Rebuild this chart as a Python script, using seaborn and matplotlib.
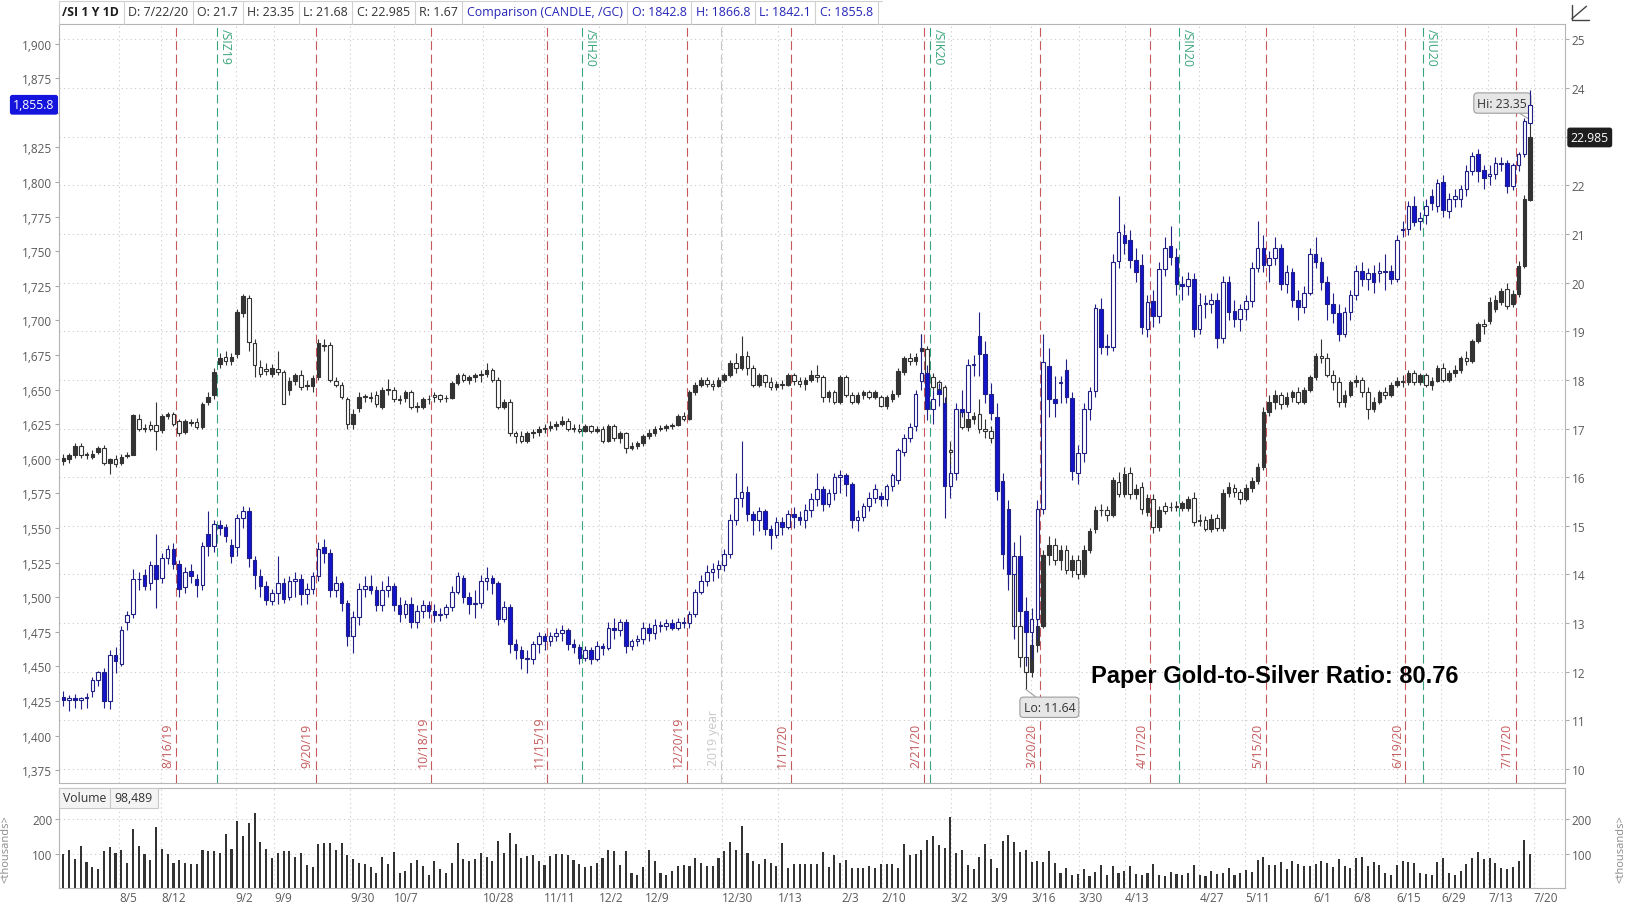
import numpy as np
import pandas as pd
import matplotlib
matplotlib.use("Agg")
import matplotlib.pyplot as plt
import matplotlib.transforms as mtransforms
from matplotlib.patches import Rectangle
from matplotlib.lines import Line2D
from matplotlib.ticker import FuncFormatter
import seaborn as sns

sns.set_style("white")
plt.rcParams["font.family"] = ["Open Sans", "DejaVu Sans"]

# one bar per trading day, 7/22/19 .. 7/22/20
holidays = pd.to_datetime(["2019-09-02", "2019-11-28", "2019-12-25", "2020-01-01", "2020-01-20",
                           "2020-02-17", "2020-04-10", "2020-05-25", "2020-07-03"])
days = pd.bdate_range("2019-07-22", "2020-07-22")
days = days[~days.isin(holidays)]

# /SI daily candles (right axis)
silver_open = [
    16.33, 16.37, 16.45, 16.65, 16.46, 16.42, 16.52, 16.60, 16.30, 16.38,
    16.30, 16.44, 16.46, 17.20, 17.00, 17.08, 17.08, 16.98, 17.25, 17.30,
    17.15, 16.92, 17.12, 17.14, 17.03, 17.55, 17.68, 18.32, 18.47, 18.38,
    18.53, 19.38, 19.68, 18.75, 18.26, 18.22, 18.13, 18.22, 18.17, 17.80,
    17.97, 18.10, 17.88, 17.87, 18.06, 18.70, 18.72, 17.97, 17.90, 17.60,
    17.10, 17.42, 17.65, 17.65, 17.70, 17.45, 17.80, 17.80, 17.60, 17.62,
    17.75, 17.45, 17.45, 17.60, 17.70, 17.68, 17.62, 17.63, 17.93, 18.10,
    18.00, 18.05, 18.10, 18.12, 18.20, 18.00, 17.45, 17.55, 16.90, 16.85,
    16.75, 16.90, 16.92, 17.00, 17.02, 17.05, 17.10, 17.15, 17.00, 17.00,
    16.95, 17.05, 16.95, 17.00, 16.75, 17.05, 16.80, 16.90, 16.60, 16.65,
    16.70, 16.85, 16.90, 17.00, 17.02, 17.05, 17.08, 17.25, 17.20, 17.75,
    17.90, 18.00, 17.92, 17.88, 18.00, 18.10, 18.35, 18.25, 18.50, 18.25,
    17.90, 18.10, 17.95, 17.85, 17.92, 17.90, 18.10, 17.98, 17.92, 18.00,
    18.10, 18.05, 17.65, 17.75, 17.55, 18.05, 17.70, 17.55, 17.70, 17.75,
    17.65, 17.65, 17.47, 17.60, 17.71, 18.17, 18.45, 18.38, 18.60, 18.64,
    18.05, 17.95, 17.85, 16.55, 16.50, 17.35, 17.04, 17.20, 17.30, 17.00,
    16.95, 16.80, 15.80, 14.60, 14.20, 12.95, 12.30, 12.00, 12.55, 12.95,
    14.40, 14.60, 14.30, 14.50, 14.10, 14.30, 14.00, 14.50, 14.94, 15.32,
    15.32, 15.23, 15.90, 15.66, 16.09, 15.66, 15.79, 15.29, 15.56, 14.97,
    15.40, 15.38, 15.40, 15.36, 15.36, 15.58, 15.10, 15.12, 14.94, 15.17,
    14.95, 15.67, 15.78, 15.70, 15.55, 15.78, 15.92, 16.20, 17.35, 17.55,
    17.70, 17.50, 17.65, 17.75, 17.55, 17.80, 18.05, 18.50, 18.45, 18.10,
    17.95, 17.55, 17.70, 17.95, 18.00, 17.75, 17.40, 17.55, 17.75, 17.70,
    17.90, 17.98, 17.95, 18.15, 17.95, 18.10, 17.90, 17.98, 18.25, 18.00,
    18.15, 18.20, 18.45, 18.38, 18.80, 19.15, 19.22, 19.45, 19.60, 19.87,
    19.56, 19.77, 20.35, 21.70]
silver_high = [
    16.47, 16.50, 16.70, 16.70, 16.52, 16.55, 16.65, 16.66, 16.40, 16.45,
    16.47, 16.52, 17.30, 17.30, 17.10, 17.15, 17.55, 17.30, 17.35, 17.35,
    17.20, 17.20, 17.20, 17.22, 17.55, 17.75, 18.25, 18.55, 18.60, 18.55,
    19.45, 19.77, 19.75, 18.85, 18.40, 18.35, 18.32, 18.60, 18.20, 18.05,
    18.15, 18.20, 18.00, 18.10, 18.85, 18.85, 18.78, 18.05, 17.95, 17.65,
    17.40, 17.75, 17.72, 17.75, 17.78, 17.85, 18.02, 17.85, 17.68, 17.80,
    17.80, 17.55, 17.65, 17.70, 17.75, 17.72, 17.70, 17.98, 18.15, 18.15,
    18.10, 18.15, 18.20, 18.35, 18.25, 18.05, 17.60, 17.60, 16.95, 16.95,
    16.95, 17.00, 17.05, 17.10, 17.15, 17.15, 17.25, 17.22, 17.10, 17.10,
    17.10, 17.08, 17.05, 17.05, 17.10, 17.10, 16.95, 16.92, 16.72, 16.75,
    16.88, 17.00, 17.05, 17.08, 17.10, 17.12, 17.30, 17.35, 17.80, 17.95,
    18.05, 18.05, 18.00, 18.05, 18.15, 18.40, 18.55, 18.90, 18.60, 18.30,
    18.15, 18.12, 18.05, 17.98, 18.00, 18.15, 18.15, 18.05, 18.05, 18.20,
    18.30, 18.10, 17.80, 17.80, 18.10, 18.10, 17.75, 17.75, 17.80, 17.80,
    17.80, 17.70, 17.70, 17.80, 18.25, 18.50, 18.55, 18.55, 18.95, 18.70,
    18.15, 18.00, 17.90, 16.75, 17.40, 17.40, 17.30, 17.35, 17.60, 17.20,
    17.05, 16.85, 15.90, 14.90, 14.40, 13.40, 12.80, 12.70, 13.20, 14.50,
    14.80, 14.75, 14.60, 14.60, 14.40, 14.40, 14.60, 14.95, 15.40, 15.45,
    15.40, 16.00, 16.10, 16.20, 16.20, 15.85, 15.90, 15.65, 15.65, 15.40,
    15.48, 15.48, 15.50, 15.50, 15.62, 15.70, 15.25, 15.20, 15.25, 15.25,
    15.75, 15.90, 15.85, 15.75, 15.85, 16.00, 16.30, 17.45, 17.70, 17.80,
    17.75, 17.75, 17.80, 17.85, 17.85, 18.10, 18.55, 18.85, 18.55, 18.20,
    18.05, 17.80, 18.00, 18.10, 18.05, 17.85, 17.65, 17.80, 17.85, 17.95,
    18.05, 18.10, 18.20, 18.20, 18.15, 18.15, 18.05, 18.30, 18.35, 18.20,
    18.30, 18.50, 18.60, 18.85, 19.20, 19.25, 19.70, 19.75, 19.90, 20.00,
    19.85, 20.45, 21.80, 23.35]
silver_low = [
    16.25, 16.30, 16.40, 16.40, 16.38, 16.38, 16.48, 16.25, 16.06, 16.20,
    16.25, 16.40, 16.45, 16.95, 16.92, 16.95, 16.55, 16.90, 17.20, 17.05,
    16.85, 16.88, 17.05, 17.00, 17.00, 17.48, 17.60, 18.25, 18.30, 18.30,
    18.45, 19.30, 18.60, 18.05, 18.05, 18.10, 18.05, 18.10, 17.50, 17.70,
    17.90, 17.80, 17.80, 17.75, 18.00, 18.60, 17.95, 17.85, 17.60, 17.00,
    17.00, 17.35, 17.55, 17.55, 17.45, 17.40, 17.70, 17.55, 17.50, 17.55,
    17.40, 17.35, 17.40, 17.50, 17.55, 17.55, 17.55, 17.60, 17.90, 17.95,
    17.92, 17.95, 17.95, 18.05, 17.95, 17.40, 17.40, 16.85, 16.70, 16.70,
    16.70, 16.80, 16.85, 16.90, 16.95, 16.98, 17.05, 16.95, 16.92, 16.90,
    16.92, 16.90, 16.90, 16.70, 16.72, 16.75, 16.70, 16.50, 16.55, 16.58,
    16.65, 16.78, 16.85, 16.95, 16.95, 17.00, 17.05, 17.15, 17.18, 17.70,
    17.85, 17.85, 17.80, 17.85, 17.95, 18.05, 18.15, 18.20, 18.10, 17.85,
    17.85, 17.85, 17.80, 17.80, 17.82, 17.88, 17.90, 17.85, 17.80, 17.95,
    17.95, 17.55, 17.55, 17.50, 17.50, 17.65, 17.50, 17.50, 17.60, 17.60,
    17.60, 17.45, 17.40, 17.55, 17.65, 18.10, 18.30, 18.30, 18.55, 17.95,
    17.80, 17.75, 16.45, 16.25, 16.45, 17.00, 16.95, 17.10, 16.90, 16.80,
    16.70, 15.70, 14.50, 13.80, 12.70, 12.10, 11.64, 11.90, 12.40, 12.90,
    14.20, 14.20, 14.10, 14.00, 13.95, 13.90, 13.95, 14.45, 14.85, 15.20,
    15.10, 15.18, 15.60, 15.60, 15.55, 15.55, 15.25, 15.20, 14.85, 14.90,
    15.25, 15.30, 15.30, 15.30, 15.30, 15.00, 15.00, 14.90, 14.88, 14.90,
    14.90, 15.60, 15.60, 15.45, 15.50, 15.70, 15.85, 16.15, 17.25, 17.40,
    17.40, 17.45, 17.55, 17.50, 17.50, 17.75, 18.00, 18.35, 18.05, 17.80,
    17.45, 17.45, 17.65, 17.85, 17.65, 17.20, 17.35, 17.50, 17.60, 17.65,
    17.85, 17.85, 17.90, 17.90, 17.90, 17.85, 17.80, 17.95, 17.95, 17.95,
    18.05, 18.15, 18.30, 18.35, 18.75, 18.95, 19.15, 19.40, 19.55, 19.45,
    19.50, 19.70, 20.30, 21.68]
silver_close = [
    16.40, 16.45, 16.65, 16.45, 16.46, 16.48, 16.60, 16.30, 16.38, 16.28,
    16.42, 16.46, 17.27, 17.00, 17.00, 17.00, 16.95, 17.25, 17.30, 17.10,
    16.90, 17.15, 17.12, 17.03, 17.50, 17.65, 18.17, 18.45, 18.38, 18.48,
    19.39, 19.73, 18.77, 18.30, 18.13, 18.18, 18.25, 18.17, 17.51, 17.98,
    18.10, 17.85, 17.90, 18.04, 18.75, 18.70, 18.00, 17.90, 17.65, 17.10,
    17.30, 17.65, 17.65, 17.62, 17.50, 17.80, 17.80, 17.60, 17.58, 17.75,
    17.45, 17.45, 17.60, 17.60, 17.65, 17.60, 17.63, 17.93, 18.10, 18.00,
    18.05, 18.10, 18.12, 18.20, 18.00, 17.45, 17.55, 16.90, 16.85, 16.75,
    16.90, 16.92, 17.00, 17.02, 17.05, 17.10, 17.15, 17.00, 17.00, 16.95,
    17.05, 16.95, 17.00, 16.75, 17.05, 16.80, 16.90, 16.60, 16.65, 16.70,
    16.85, 16.90, 17.00, 17.02, 17.05, 17.08, 17.25, 17.20, 17.75, 17.90,
    18.00, 17.92, 17.88, 18.00, 18.10, 18.35, 18.25, 18.50, 18.25, 17.90,
    18.10, 17.95, 17.85, 17.92, 17.90, 18.10, 17.98, 17.92, 18.00, 18.10,
    18.05, 17.65, 17.75, 17.55, 18.05, 17.70, 17.55, 17.70, 17.75, 17.65,
    17.75, 17.47, 17.65, 17.71, 18.19, 18.45, 18.38, 18.48, 18.66, 18.02,
    17.85, 17.82, 16.55, 16.51, 17.35, 17.04, 17.20, 17.25, 17.00, 16.95,
    16.80, 15.80, 14.60, 14.20, 12.95, 12.30, 12.00, 12.55, 12.95, 14.40,
    14.60, 14.30, 14.50, 14.10, 14.30, 14.00, 14.50, 14.90, 15.32, 15.32,
    15.22, 15.94, 15.66, 16.07, 15.65, 15.76, 15.35, 15.57, 14.97, 15.33,
    15.30, 15.38, 15.38, 15.47, 15.56, 15.08, 15.10, 14.94, 15.15, 14.95,
    15.67, 15.80, 15.70, 15.55, 15.78, 15.92, 16.20, 17.35, 17.55, 17.70,
    17.50, 17.65, 17.75, 17.55, 17.80, 18.05, 18.50, 18.45, 18.10, 17.95,
    17.55, 17.70, 17.95, 18.00, 17.75, 17.40, 17.55, 17.75, 17.70, 17.90,
    17.98, 17.95, 18.15, 17.95, 18.10, 17.90, 17.98, 18.25, 18.00, 18.15,
    18.20, 18.45, 18.38, 18.80, 19.15, 19.10, 19.60, 19.64, 19.83, 19.53,
    19.77, 20.35, 21.73, 22.985]

# /GC comparison candles (left axis)
gold_open = [
    1428, 1426, 1427, 1426, 1427, 1432, 1440, 1446, 1425, 1458,
    1452, 1482, 1488, 1513, 1516, 1510, 1523, 1514, 1528, 1535,
    1524, 1507, 1519, 1513, 1509, 1546, 1537, 1552, 1551, 1538,
    1536, 1557, 1562, 1527, 1515, 1508, 1497, 1503, 1510, 1500,
    1512, 1513, 1502, 1506, 1515, 1536, 1532, 1505, 1510, 1496,
    1472, 1486, 1506, 1508, 1505, 1494, 1505, 1508, 1494, 1488,
    1495, 1482, 1490, 1494, 1490, 1487, 1488, 1493, 1504, 1514,
    1500, 1495, 1496, 1512, 1514, 1510, 1484, 1493, 1466, 1462,
    1456, 1455, 1466, 1472, 1468, 1472, 1474, 1476, 1466, 1464,
    1456, 1462, 1455, 1465, 1463, 1478, 1476, 1482, 1465, 1468,
    1470, 1478, 1474, 1480, 1479, 1481, 1478, 1482, 1481, 1488,
    1504, 1512, 1518, 1520, 1523, 1531, 1556, 1572, 1576, 1560,
    1556, 1562, 1549, 1545, 1554, 1551, 1560, 1558, 1556, 1563,
    1571, 1578, 1567, 1575, 1587, 1588, 1582, 1556, 1558, 1566,
    1572, 1573, 1571, 1580, 1585, 1605, 1615, 1624, 1656, 1662,
    1636, 1650, 1640, 1580, 1590, 1636, 1634, 1668, 1689, 1676,
    1647, 1630, 1584, 1564, 1517, 1530, 1490, 1475, 1484, 1564,
    1667, 1643, 1655, 1664, 1644, 1590, 1604, 1636, 1649, 1708,
    1681, 1681, 1743, 1762, 1758, 1744, 1740, 1694, 1714, 1703,
    1737, 1754, 1746, 1726, 1725, 1730, 1694, 1712, 1712, 1715,
    1687, 1728, 1707, 1701, 1708, 1714, 1738, 1752, 1740, 1745,
    1752, 1726, 1735, 1715, 1710, 1720, 1748, 1742, 1728, 1712,
    1705, 1690, 1706, 1718, 1736, 1730, 1734, 1734, 1736, 1736,
    1730, 1766, 1766, 1783, 1772, 1776, 1790, 1783, 1800, 1779,
    1788, 1788, 1795, 1808, 1820, 1809, 1804, 1806, 1814, 1814,
    1797, 1812, 1820, 1842.8]
gold_high = [
    1432, 1429, 1430, 1428, 1431, 1442, 1447, 1449, 1462, 1464,
    1479, 1490, 1520, 1518, 1520, 1526, 1546, 1532, 1538, 1539,
    1527, 1522, 1524, 1517, 1540, 1562, 1556, 1556, 1553, 1542,
    1560, 1566, 1565, 1530, 1520, 1512, 1506, 1530, 1514, 1515,
    1518, 1517, 1510, 1518, 1540, 1542, 1535, 1515, 1512, 1498,
    1490, 1510, 1515, 1516, 1508, 1512, 1515, 1510, 1500, 1498,
    1500, 1494, 1498, 1497, 1495, 1492, 1495, 1508, 1518, 1516,
    1504, 1505, 1516, 1522, 1516, 1512, 1497, 1495, 1470, 1465,
    1462, 1468, 1475, 1474, 1475, 1478, 1480, 1478, 1470, 1466,
    1465, 1464, 1468, 1467, 1482, 1485, 1484, 1484, 1470, 1473,
    1482, 1481, 1484, 1483, 1484, 1484, 1485, 1486, 1490, 1506,
    1516, 1523, 1525, 1527, 1535, 1560, 1590, 1613, 1580, 1562,
    1565, 1564, 1552, 1558, 1558, 1563, 1565, 1562, 1567, 1575,
    1590, 1580, 1578, 1590, 1592, 1590, 1583, 1563, 1568, 1576,
    1582, 1576, 1582, 1590, 1608, 1618, 1626, 1650, 1690, 1668,
    1650, 1655, 1645, 1596, 1640, 1650, 1672, 1675, 1706, 1685,
    1655, 1640, 1590, 1570, 1540, 1545, 1500, 1492, 1570, 1690,
    1680, 1660, 1660, 1672, 1648, 1610, 1640, 1652, 1712, 1716,
    1690, 1748, 1790, 1770, 1765, 1752, 1748, 1718, 1722, 1742,
    1760, 1768, 1752, 1732, 1735, 1734, 1720, 1718, 1720, 1720,
    1732, 1732, 1715, 1712, 1718, 1742, 1772, 1762, 1750, 1760,
    1755, 1740, 1738, 1722, 1725, 1752, 1760, 1746, 1732, 1720,
    1712, 1710, 1722, 1740, 1742, 1738, 1740, 1742, 1748, 1740,
    1762, 1772, 1786, 1790, 1778, 1788, 1795, 1802, 1805, 1792,
    1795, 1798, 1812, 1822, 1824, 1812, 1812, 1818, 1818, 1816,
    1814, 1822, 1846, 1866.8]
gold_low = [
    1421, 1418, 1420, 1419, 1420, 1428, 1436, 1420, 1419, 1445,
    1450, 1476, 1485, 1505, 1505, 1505, 1492, 1510, 1524, 1520,
    1500, 1503, 1510, 1500, 1505, 1530, 1533, 1545, 1540, 1525,
    1530, 1550, 1522, 1506, 1500, 1494, 1494, 1495, 1496, 1498,
    1500, 1494, 1495, 1502, 1512, 1525, 1500, 1500, 1490, 1465,
    1460, 1480, 1500, 1502, 1490, 1490, 1500, 1490, 1482, 1485,
    1478, 1478, 1485, 1485, 1482, 1483, 1485, 1490, 1502, 1496,
    1488, 1485, 1492, 1505, 1502, 1480, 1482, 1460, 1455, 1448,
    1445, 1452, 1460, 1462, 1465, 1468, 1468, 1462, 1460, 1452,
    1454, 1452, 1454, 1458, 1462, 1470, 1472, 1460, 1462, 1465,
    1466, 1468, 1470, 1475, 1476, 1476, 1476, 1478, 1478, 1486,
    1502, 1508, 1512, 1514, 1519, 1528, 1552, 1565, 1555, 1545,
    1548, 1545, 1535, 1543, 1545, 1549, 1550, 1552, 1550, 1558,
    1566, 1562, 1565, 1570, 1575, 1573, 1550, 1548, 1555, 1562,
    1568, 1566, 1566, 1577, 1582, 1602, 1612, 1620, 1650, 1628,
    1625, 1638, 1557, 1572, 1585, 1630, 1630, 1660, 1660, 1640,
    1628, 1570, 1520, 1505, 1470, 1480, 1450, 1455, 1470, 1560,
    1630, 1630, 1640, 1640, 1585, 1582, 1598, 1628, 1645, 1676,
    1675, 1678, 1738, 1748, 1738, 1728, 1690, 1688, 1695, 1698,
    1732, 1740, 1718, 1715, 1718, 1688, 1690, 1702, 1705, 1680,
    1684, 1700, 1695, 1692, 1700, 1710, 1735, 1735, 1728, 1740,
    1722, 1720, 1710, 1700, 1705, 1718, 1738, 1722, 1700, 1698,
    1685, 1688, 1700, 1715, 1725, 1722, 1720, 1728, 1722, 1726,
    1728, 1760, 1762, 1768, 1765, 1770, 1780, 1778, 1775, 1774,
    1782, 1782, 1790, 1805, 1800, 1795, 1798, 1802, 1808, 1792,
    1794, 1808, 1818, 1842.1]
gold_close = [
    1426, 1427, 1426, 1427, 1428, 1440, 1446, 1425, 1458, 1454,
    1476, 1487, 1513, 1513, 1508, 1523, 1513, 1528, 1535, 1524,
    1506, 1518, 1515, 1509, 1537, 1537, 1553, 1550, 1544, 1530,
    1557, 1562, 1528, 1516, 1508, 1498, 1503, 1510, 1499, 1512,
    1513, 1502, 1506, 1515, 1535, 1532, 1505, 1510, 1496, 1472,
    1486, 1506, 1508, 1505, 1494, 1505, 1508, 1494, 1488, 1495,
    1482, 1490, 1494, 1490, 1487, 1488, 1493, 1504, 1515, 1500,
    1495, 1496, 1512, 1514, 1510, 1484, 1493, 1466, 1462, 1456,
    1455, 1466, 1472, 1468, 1472, 1474, 1476, 1466, 1464, 1456,
    1462, 1455, 1465, 1463, 1478, 1476, 1482, 1465, 1468, 1470,
    1478, 1474, 1480, 1479, 1481, 1478, 1482, 1481, 1488, 1504,
    1512, 1518, 1520, 1523, 1531, 1556, 1572, 1576, 1560, 1556,
    1562, 1549, 1545, 1554, 1551, 1560, 1558, 1556, 1563, 1571,
    1578, 1567, 1575, 1587, 1588, 1582, 1556, 1558, 1566, 1572,
    1578, 1571, 1580, 1588, 1606, 1615, 1623, 1647, 1662, 1636,
    1643, 1647, 1580, 1590, 1636, 1634, 1668, 1668, 1676, 1647,
    1633, 1577, 1531, 1517, 1530, 1490, 1475, 1484, 1564, 1670,
    1643, 1640, 1655, 1645, 1591, 1604, 1636, 1649, 1709, 1681,
    1681, 1742, 1764, 1756, 1744, 1735, 1695, 1713, 1703, 1737,
    1752, 1746, 1726, 1725, 1730, 1694, 1711, 1712, 1715, 1687,
    1728, 1706, 1701, 1708, 1714, 1738, 1752, 1740, 1745, 1752,
    1726, 1735, 1715, 1710, 1720, 1748, 1742, 1728, 1712, 1705,
    1690, 1706, 1718, 1736, 1730, 1734, 1728, 1736, 1735, 1730,
    1758, 1765, 1783, 1771, 1774, 1783, 1785, 1799, 1780, 1788,
    1790, 1795, 1808, 1819, 1808, 1803, 1806, 1814, 1813, 1797,
    1812, 1820, 1844, 1855.8]

# /SI volume, thousands
volume = [
    100, 112, 84, 121, 77, 63, 57, 107, 120, 101,
    112, 72, 170, 121, 99, 81, 178, 114, 98, 72,
    81, 73, 71, 71, 112, 109, 108, 103, 158, 114,
    195, 152, 189, 217, 135, 114, 87, 101, 107, 107,
    90, 101, 67, 61, 127, 132, 132, 110, 132, 96,
    84, 73, 71, 61, 45, 90, 70, 104, 45, 50,
    73, 81, 65, 40, 78, 57, 45, 73, 132, 85,
    79, 86, 101, 91, 78, 138, 101, 159, 129, 87,
    93, 95, 78, 67, 93, 98, 98, 95, 81, 70,
    63, 65, 73, 89, 110, 108, 67, 108, 45, 40,
    62, 112, 79, 45, 40, 50, 64, 67, 64, 89,
    72, 64, 64, 89, 108, 134, 110, 179, 101, 79,
    70, 84, 74, 66, 131, 60, 71, 70, 70, 70,
    70, 106, 63, 95, 72, 81, 60, 60, 60, 66,
    58, 70, 70, 70, 58, 127, 95, 98, 112, 140,
    150, 124, 118, 207, 101, 112, 67, 55, 92, 127,
    84, 59, 138, 155, 135, 104, 112, 76, 78, 77,
    107, 74, 45, 60, 38, 42, 55, 35, 48, 67,
    40, 64, 45, 50, 64, 42, 38, 45, 70, 40,
    35, 48, 42, 38, 45, 67, 40, 36, 50, 42,
    45, 60, 38, 44, 52, 48, 81, 92, 67, 67,
    76, 55, 79, 70, 64, 64, 70, 78, 72, 61,
    84, 65, 58, 87, 90, 64, 75, 67, 45, 40,
    67, 78, 77, 74, 45, 42, 40, 75, 87, 45,
    40, 50, 70, 87, 104, 84, 87, 72, 60, 55,
    61, 78, 141, 98]

expirations = ["2019-08-16", "2019-09-20", "2019-10-18", "2019-11-15", "2019-12-20", "2020-01-17",
               "2020-02-21", "2020-03-20", "2020-04-17", "2020-05-15", "2020-06-19", "2020-07-17"]
rolls = ["2019-08-27", "2019-11-25", "2020-02-24", "2020-04-24", "2020-06-24"]
roll_labels = ["/SIZ19", "/SIH20", "/SIK20", "/SIN20", "/SIU20"]
week_labels = ["8/5", "8/12", "9/2", "9/9", "9/30", "10/7", "10/28", "11/11", "12/2", "12/9",
               "12/30", "1/13", "2/3", "2/10", "3/2", "3/9", "3/16", "3/30", "4/13", "4/27",
               "5/11", "6/1", "6/8", "6/15", "6/29", "7/13", "7/20"]
# where the reference puts the centre of each date label (layout units, 1568 wide)
week_label_x = [123, 166, 235, 272, 348, 390, 479, 537, 588, 632, 709, 760, 819, 860, 924,
                962, 1004, 1050, 1094, 1166, 1210, 1273, 1312, 1356, 1399, 1444, 1488]

n = len(days)
for arr in (silver_open, silver_high, silver_low, silver_close,
            gold_open, gold_high, gold_low, gold_close, volume):
    assert len(arr) == n, len(arr)


def bar_of(date):
    return int(np.searchsorted(days.values, np.datetime64(pd.Timestamp(date))))


def draw_candles(axis, o, h, l, c, up_fc, down_fc, ec, min_body):
    o, h, l, c = (np.asarray(v, dtype=float) for v in (o, h, l, c))
    x = np.arange(len(o))
    axis.vlines(x, l, h, color=ec, lw=0.8, zorder=3)
    up = c >= o
    lo = np.minimum(o, c)
    body = np.maximum(np.abs(c - o), min_body)
    axis.bar(x[up], body[up], bottom=lo[up], width=0.62, color=up_fc,
             edgecolor=ec, linewidth=0.8, zorder=4)
    axis.bar(x[~up], body[~up], bottom=lo[~up], width=0.62, color=down_fc,
             edgecolor=ec, linewidth=0.8, zorder=4)


# layout measured on the reference (1568 x 871 units)
W, H = 1568.0, 871.0
fx = lambda x: x / W
fy = lambda y: 1 - y / H
BAR0, BARW = 61.0, 5.584   # x of first bar, spacing per bar (layout units)

fig = plt.figure(figsize=(16.28, 9.04), dpi=100)
fig.patch.set_facecolor("white")
ax = fig.add_axes([fx(57), fy(755), fx(1507) - fx(57), fy(24) - fy(755)])
axg = ax.twinx()
axv = fig.add_axes([fx(57), fy(857), fx(1507) - fx(57), fy(760) - fy(857)])

xlim = ((57 - BAR0) / BARW, (1507 - BAR0) / BARW)
# date grid sits at the left edge of each label
tick_pos = [(cx - 2.7 * len(lab) - BAR0) / BARW for cx, lab in zip(week_label_x, week_labels)]

grid_kw = dict(color="#c9c9c9", lw=0.8, ls=(0, (1, 3)))
label_col = "#5a5a5a"
spine_col = "#b5b5b5"

# silver on the base axes (right scale), grid lives here
draw_candles(ax, silver_open, silver_high, silver_low, silver_close,
             "#333333", "white", "#333333", 0.012)
ax.set_xlim(*xlim)
ax.set_ylim(9.72, 25.32)
ax.set_yticks(range(10, 26))
# 23 sits under the last-price box in the reference
ax.yaxis.set_major_formatter(FuncFormatter(lambda v, p: "" if round(v) == 23 else f"{v:.0f}"))
ax.set_xticks(tick_pos)
ax.set_axisbelow(True)
ax.grid(True, **grid_kw)
ax.yaxis.set_ticks_position("right")
ax.tick_params(axis="y", labelsize=8.5, labelcolor=label_col, color="#aaaaaa",
               length=3, pad=2, right=True, left=False, labelright=True, labelleft=False)
ax.tick_params(axis="x", length=0, labelbottom=False)
for s in ax.spines.values():
    s.set_color(spine_col)
    s.set_linewidth(0.8)

# gold comparison on the twin (left scale)
draw_candles(axg, gold_open, gold_high, gold_low, gold_close,
             "white", "#1313cc", "#1f1f86", 0.4)
axg.set_xlim(*xlim)
axg.set_ylim(1366, 1914.25)
axg.set_yticks(range(1375, 1901, 25))
axg.yaxis.set_major_formatter(FuncFormatter(lambda v, p: "" if round(v) == 1850 else f"{v:,.0f}"))
axg.yaxis.set_ticks_position("left")
axg.tick_params(axis="y", labelsize=8.5, labelcolor=label_col, color="#aaaaaa",
                length=3, pad=2, left=True, right=False, labelleft=True, labelright=False)
axg.tick_params(axis="x", length=0, labelbottom=False, labeltop=False)
for s in axg.spines.values():
    s.set_visible(False)

# expiration / roll / year markers
dash = (0, (8, 4))
red, green = "#c45a5c", "#3aa57a"
bt = mtransforms.blended_transform_factory(ax.transData, ax.transAxes)
for d in expirations:
    xl = bar_of(d) + 0.5
    ax.axvline(xl, color=red, lw=0.8, ls=dash, zorder=1)
    t = pd.Timestamp(d)
    ax.text(xl - 0.3, 0.021, f"{t.month}/{t.day}/{t.strftime('%y')}", transform=bt,
            rotation=90, ha="right", va="bottom", fontsize=8.8, color=red)
for d, lab in zip(rolls, roll_labels):
    xl = bar_of(d) + 0.5
    ax.axvline(xl, color=green, lw=0.8, ls=dash, zorder=1)
    ax.text(xl + 0.3, 0.994, lab, transform=bt, rotation=270, ha="left", va="top",
            fontsize=8.8, color=green)
year_x = bar_of("2020-01-02") - 0.5
ax.axvline(year_x, color="#c8c8c8", lw=0.8, ls=dash, zorder=1)
ax.text(year_x - 0.3, 0.023, "2019 year", transform=bt, rotation=90, ha="right",
        va="bottom", fontsize=8.8, color="#c8c8c8")

# volume panel
sns.barplot(x=np.arange(n), y=volume, native_scale=True, color="#333333", width=0.36,
            saturation=1, errorbar=None, ax=axv, linewidth=0)
axv.set_xlim(*xlim)
axv.set_ylim(0, 290)
axv.set_yticks([100, 200])
axv.set_xticks(tick_pos)
axv.set_xticklabels(week_labels)
axv.set_xlabel("")
axv.set_ylabel("")
axv.set_axisbelow(True)
axv.grid(True, **grid_kw)
axv.tick_params(axis="x", length=0, pad=1.5, labelsize=8.5, labelcolor=label_col)
for lbl in axv.get_xticklabels():
    lbl.set_horizontalalignment("left")
axv.tick_params(axis="y", labelsize=8.5, labelcolor=label_col, color="#aaaaaa", length=3,
                pad=2, left=True, right=True, labelleft=True, labelright=True)
for s in axv.spines.values():
    s.set_color(spine_col)
    s.set_linewidth(0.8)
fig.text(fx(6), fy(818), "<thousands>", rotation=90, ha="center", va="center",
         fontsize=8, color="#8a8a8a")
fig.text(fx(1561), fy(818), "<thousands>", rotation=90, ha="center", va="center",
         fontsize=8, color="#8a8a8a")
fig.add_artist(Rectangle((fx(57), fy(779)), fx(152) - fx(57), fy(760) - fy(779),
                         transform=fig.transFigure, fc="#f4f4f4", ec="#c8c8c8", lw=0.8))
fig.add_artist(Line2D([fx(106), fx(106)], [fy(779), fy(760)], transform=fig.transFigure,
                      color="#c8c8c8", lw=0.8))
fig.text(fx(61), fy(769.5), "Volume", ha="left", va="center", fontsize=8.8, color="#333333")
fig.text(fx(110), fy(769.5), "98,489", ha="left", va="center", fontsize=8.8, color="#333333")

# last price markers
bg = mtransforms.blended_transform_factory(axg.transAxes, axg.transData)
axg.text(-0.003, gold_close[-1], f"{gold_close[-1]:,.1f}", transform=bg, ha="right",
         va="center", fontsize=8.8, color="white", zorder=10,
         bbox=dict(boxstyle="round,pad=0.22,rounding_size=0.15", fc="#1414dc", ec="#1414dc"))
bs = mtransforms.blended_transform_factory(ax.transAxes, ax.transData)
ax.text(1.004, silver_close[-1], f"{silver_close[-1]:.3f}", transform=bs, ha="left",
        va="center", fontsize=8.8, color="white", zorder=10,
        bbox=dict(boxstyle="round,pad=0.22,rounding_size=0.15", fc="#1e1e1e", ec="#1e1e1e"))

# high / low bubbles
bubble = dict(boxstyle="round,pad=0.3,rounding_size=0.3", fc="#e6e6e6", ec="#9d9d9d", lw=0.8)
hi_i = int(np.argmax(silver_high))
lo_i = int(np.argmin(silver_low))
ax.annotate(f"Hi: {silver_high[hi_i]:.2f}", xy=(hi_i, silver_high[hi_i]), xytext=(-20, 12),
            textcoords="offset points", ha="center", va="center", fontsize=8.8,
            color="#333333", bbox=bubble, zorder=12,
            arrowprops=dict(arrowstyle="-", color="#9d9d9d", lw=0.8, shrinkA=0, shrinkB=0))
ax.annotate(f"Lo: {silver_low[lo_i]:.2f}", xy=(lo_i, silver_low[lo_i]), xytext=(17, -13),
            textcoords="offset points", ha="center", va="center", fontsize=8.8,
            color="#333333", bbox=bubble, zorder=12,
            arrowprops=dict(arrowstyle="-", color="#9d9d9d", lw=0.8, shrinkA=0, shrinkB=0))

ax.text((1228 - 57) / 1450, (755 - 652) / 731, "Paper Gold-to-Silver Ratio: 80.76",
        transform=ax.transAxes, ha="center", va="center", fontsize=17, fontweight="bold",
        family=["Liberation Sans", "DejaVu Sans"], color="black", zorder=12)

# header strip
header_items = [("/SI 1 Y 1D", "bold", "#1e1e1e"), ("D: 7/22/20", "normal", "#333333"),
                ("O: 21.7", "normal", "#333333"), ("H: 23.35", "normal", "#333333"),
                ("L: 21.68", "normal", "#333333"), ("C: 22.985", "normal", "#333333"),
                ("R: 1.67", "normal", "#333333"),
                ("Comparison (CANDLE, /GC)", "normal", "#2626b8"), ("O: 1842.8", "normal", "#2626b8"),
                ("H: 1866.8", "normal", "#2626b8"), ("L: 1842.1", "normal", "#2626b8"),
                ("C: 1855.8", "normal", "#2626b8")]
FW, FH = 1628.0, 904.0
renderer = fig.canvas.get_renderer()
xp = 60 * FW / W
fig.add_artist(Line2D([fx(57), fx(57)], [fy(2), fy(24)], transform=fig.transFigure,
                      color="#d0d0d0", lw=0.8))
for s, wt, col in header_items:
    t = fig.text(xp / FW, fy(12.5), s, ha="left", va="center", fontsize=8.9,
                 fontweight=wt, color=col)
    bb = t.get_window_extent(renderer)
    xs = bb.x1 + 4.5
    fig.add_artist(Line2D([xs / FW, xs / FW], [fy(2), fy(24)], transform=fig.transFigure,
                          color="#d0d0d0", lw=0.8))
    xp = xs + 4.5
fig.add_artist(Line2D([fx(57), xp / FW], [fy(2), fy(2)], transform=fig.transFigure,
                      color="#d0d0d0", lw=0.8))
# small chart icon at top right
fig.add_artist(Line2D([fx(1514), fx(1528)], [fy(19), fy(7)], transform=fig.transFigure,
                      color="#444444", lw=1.0))
fig.add_artist(Line2D([fx(1514), fx(1530)], [fy(20), fy(20)], transform=fig.transFigure,
                      color="#444444", lw=1.0))
fig.add_artist(Line2D([fx(1514), fx(1514)], [fy(6), fy(20)], transform=fig.transFigure,
                      color="#444444", lw=1.0))

fig.savefig("out.png", dpi=100)
